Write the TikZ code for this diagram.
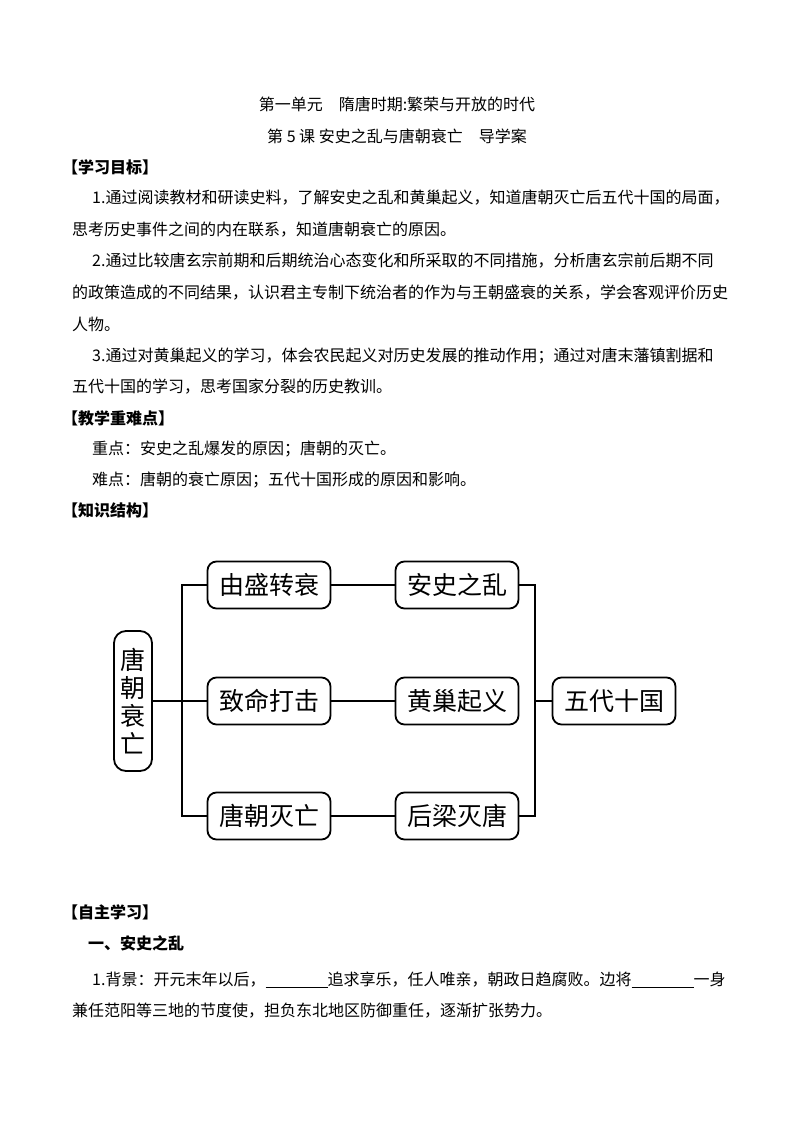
\documentclass[tikz,border=0pt]{standalone}
\usepackage{fontspec}
\setmainfont{Noto Sans CJK SC}
\begin{document}
\begin{tikzpicture}[x=1pt,y=-1pt,
  t/.style={anchor=west,inner sep=0pt,font=\fontsize{16}{16}\selectfont},
  h/.style={anchor=west,inner sep=0pt,font=\fontsize{16}{16}\selectfont\bfseries},
  bx/.style={draw,line width=1.8pt,rounded corners=9pt,minimum width=123pt,minimum height=47pt,font=\fontsize{25}{25}\selectfont,inner sep=0pt},
  ln/.style={line width=1.2pt}]
\useasboundingbox[fill=white] (0,0) rectangle (794,1123);
\node[inner sep=0pt,font=\fontsize{16}{16}\selectfont] (t1) at (397,104) {第一单元\quad 隋唐时期:繁荣与开放的时代};
\node[inner sep=0pt,font=\fontsize{16}{16}\selectfont] (t2) at (397,136) {第 5 课\ 安史之乱与唐朝衰亡\quad 导学案};
\node[h] (a) at (62,167) {【学习目标】};
\node[t] (l1) at (92,198) {1.通过阅读教材和研读史料，了解安史之乱和黄巢起义，知道唐朝灭亡后五代十国的局面，};
\node[t] (l2) at (72,230) {思考历史事件之间的内在联系，知道唐朝衰亡的原因。};
\node[t] (l3) at (92,261) {2.通过比较唐玄宗前期和后期统治心态变化和所采取的不同措施，分析唐玄宗前后期不同};
\node[t] (l4) at (72,293) {的政策造成的不同结果，认识君主专制下统治者的作为与王朝盛衰的关系，学会客观评价历史};
\node[t] (l5) at (72,324) {人物。};
\node[t] (l6) at (92,356) {3.通过对黄巢起义的学习，体会农民起义对历史发展的推动作用；通过对唐末藩镇割据和};
\node[t] (l7) at (72,387) {五代十国的学习，思考国家分裂的历史教训。};
\node[h] (b) at (62,418) {【教学重难点】};
\node[t] (l8) at (92,449) {重点：安史之乱爆发的原因；唐朝的灭亡。};
\node[t] (l9) at (92,480) {难点：唐朝的衰亡原因；五代十国形成的原因和影响。};
\node[h] (c) at (62,510) {【知识结构】};
% diagram
\node[bx,minimum width=38pt,minimum height=140pt,rounded corners=12pt,align=center,font=\fontsize{25}{28}\selectfont] (L) at (133,701) {唐\\朝\\衰\\亡};
\node[bx] (a1) at (269,585) {由盛转衰};
\node[bx] (a2) at (269,701) {致命打击};
\node[bx] (a3) at (269,816) {唐朝灭亡};
\node[bx] (b1) at (457,585) {安史之乱};
\node[bx] (b2) at (457,701) {黄巢起义};
\node[bx] (b3) at (457,816) {后梁灭唐};
\node[bx] (R) at (614,701) {五代十国};
\coordinate (jl1) at (182,585); \coordinate (jl3) at (182,816);
\coordinate (jr1) at (535,585); \coordinate (jr3) at (535,816); \coordinate (jr2) at (535,701);
\draw[ln] (a1.west) -- (jl1) -- (jl3) -- (a3.west);
\draw[ln] (L.east) -- (a2.west);
\draw[ln] (a1) -- (b1); \draw[ln] (a2) -- (b2); \draw[ln] (a3) -- (b3);
\draw[ln] (b1.east) -- (jr1) -- (jr3) -- (b3.east);
\draw[ln] (jr2) -- (R.west);
\node[h] (d) at (62,912) {【自主学习】};
\node[h] (e) at (88,943) {一、安史之乱};
\node[t] (l10) at (92,980) {1.背景：开元末年以后，\underline{\hspace{62pt}}追求享乐，任人唯亲，朝政日趋腐败。边将\underline{\hspace{62pt}}一身};
\node[t] (l11) at (72,1011) {兼任范阳等三地的节度使，担负东北地区防御重任，逐渐扩张势力。};
\end{tikzpicture}
\end{document}
